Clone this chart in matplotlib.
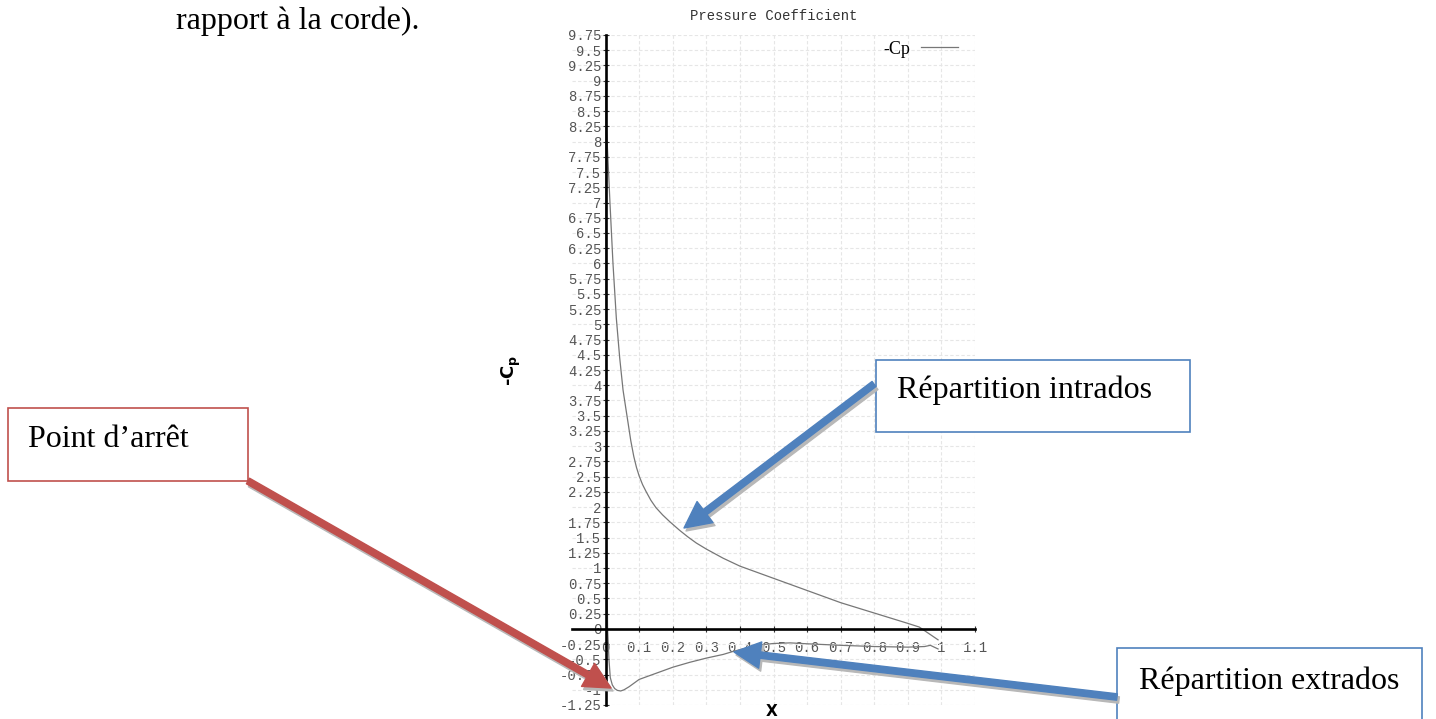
import numpy as np
import matplotlib
matplotlib.use("Agg")
import matplotlib.pyplot as plt
from matplotlib.patches import Rectangle, FancyArrowPatch

# -Cp distribution (intrados: positive branch, extrados: negative)
x_intrados = [0.0, 0.001, 0.003, 0.013, 0.022, 0.032, 0.042, 0.052, 0.06, 0.067,
              0.075, 0.084, 0.092, 0.10, 0.11, 0.121, 0.135, 0.15, 0.17, 0.191,
              0.22, 0.245, 0.27, 0.30, 0.35, 0.40, 0.45, 0.50, 0.60, 0.70,
              0.80, 0.90, 0.934, 0.99]
cp_intrados = [9.0, 8.6, 8.2, 7.0, 6.0, 5.1, 4.45, 3.92, 3.63, 3.38,
               3.09, 2.83, 2.65, 2.51, 2.37, 2.25, 2.11, 1.99, 1.87, 1.76,
               1.62, 1.51, 1.41, 1.31, 1.16, 1.03, 0.93, 0.83, 0.63, 0.43,
               0.26, 0.09, 0.03, -0.18]
x_extrados = [0.0, 0.001, 0.003, 0.006, 0.010, 0.014, 0.020, 0.027, 0.035, 0.045,
              0.055, 0.07, 0.10, 0.15, 0.20, 0.25, 0.30, 0.35, 0.38, 0.45,
              0.50, 0.55, 0.60, 0.70, 0.80, 0.90, 0.95, 0.967, 0.99]
cp_extrados = [9.0, 5.0, 1.5, 0.0, -0.5, -0.80, -0.92, -0.98, -1.01, -1.02,
               -1.00, -0.95, -0.83, -0.73, -0.63, -0.55, -0.48, -0.42, -0.37, -0.27,
               -0.24, -0.23, -0.245, -0.27, -0.29, -0.30, -0.29, -0.27, -0.33]

x_ticks = [0, 0.1, 0.2, 0.3, 0.4, 0.5, 0.6, 0.7, 0.8, 0.9, 1, 1.1]
y_ticks = np.arange(-1.25, 9.76, 0.25)

W, H = 1436, 719


def fx(px):
    return px / W


def fy(py):
    return 1 - py / H


fig = plt.figure(figsize=(W / 100, H / 100), dpi=100)
ax = fig.add_axes([fx(572), fy(705), (975 - 572) / W, (705 - 35) / H])

# one path: trailing edge -> leading edge (intrados) -> trailing edge (extrados)
xs = list(reversed(x_intrados)) + x_extrados[1:]
ys = list(reversed(cp_intrados)) + cp_extrados[1:]
ax.plot(xs, ys, color='#777777', linewidth=0.9, label='-Cp')

ax.set_xlim(-0.1, 1.1)
ax.set_ylim(-1.25, 9.75)
ax.set_xticks(x_ticks)
ax.set_xticklabels([f'{v:g}' for v in x_ticks])
ax.set_yticks(y_ticks)
ax.set_yticklabels([f'{v:g}' for v in y_ticks])

for side in ('top', 'right'):
    ax.spines[side].set_visible(False)
for side in ('left', 'bottom'):
    ax.spines[side].set_position(('data', 0))
    ax.spines[side].set_linewidth(1.9)
    ax.spines[side].set_zorder(3)

mono = 'Liberation Mono'
ax.tick_params(axis='both', direction='inout', length=4, width=0.8,
               colors='#333333', labelcolor='#555555', labelsize=10)
ax.tick_params(axis='y', pad=1)
ax.tick_params(axis='x', pad=7)
for lab in ax.get_xticklabels() + ax.get_yticklabels():
    lab.set_family(mono)

ax.grid(True, color='#e6e6e6', linestyle=(0, (3, 2)), linewidth=0.8)
ax.set_axisbelow(True)

ax.set_title('Pressure Coefficient', family=mono, fontsize=10, color='#333333', pad=11)
ax.set_ylabel(r'-C$_\mathbf{p}$', fontsize=13, fontweight='bold')
ax.yaxis.set_label_coords((523 - 572) / 403, (705 - 370) / 670)
ax.set_xlabel('X', fontsize=11, fontweight='bold')
ax.xaxis.set_label_coords((772 - 572) / 403, 0.002)

ax.legend(loc='center right', bbox_to_anchor=((958 - 572) / 403, (705 - 49) / 670),
          frameon=False, markerfirst=False, handlelength=2.05, handletextpad=0.6,
          borderpad=0, borderaxespad=0,
          prop={'family': 'Liberation Serif', 'size': 13})

# document text and annotation boxes around the chart
serif = 'Liberation Serif'
fig.text(fx(176), fy(21), 'rapport à la corde).', family=serif, fontsize=23,
         va='center', ha='left')

boxes = [
    (8, 408, 248, 481, '#c0504d', 28, 440, "Point d’arrêt"),
    (876, 360, 1190, 432, '#4f81bd', 897, 390, 'Répartition intrados'),
    (1117, 648, 1422, 730, '#4f81bd', 1139, 681, 'Répartition extrados'),
]
for x0, y0, x1, y1, col, tx, ty, txt in boxes:
    fig.add_artist(Rectangle((fx(x0), fy(y1)), fx(x1 - x0), (y1 - y0) / H,
                             transform=fig.transFigure, facecolor='white',
                             edgecolor=col, linewidth=1.2, zorder=4))
    fig.text(fx(tx), fy(ty), txt, family=serif, fontsize=23, va='center',
             ha='left', zorder=5)

arrows = [
    ((248, 481), (611, 688), '#c0504d'),
    ((874, 384), (684, 528), '#4f81bd'),
    ((1117, 697), (734, 652), '#4f81bd'),
]
style = 'simple,head_length=19,head_width=19,tail_width=4.6'
for (sx, sy), (ex, ey), col in arrows:
    shadow = FancyArrowPatch((fx(sx + 2), fy(sy + 3)), (fx(ex + 2), fy(ey + 3)),
                             transform=fig.transFigure, arrowstyle=style,
                             mutation_scale=1, color='#b8b8b8', zorder=5,
                             shrinkA=0, shrinkB=0)
    fig.add_artist(shadow)
    arr = FancyArrowPatch((fx(sx), fy(sy)), (fx(ex), fy(ey)),
                          transform=fig.transFigure, arrowstyle=style,
                          mutation_scale=1, color=col, zorder=6,
                          shrinkA=0, shrinkB=0)
    fig.add_artist(arr)

fig.savefig('out.png', dpi=100)
